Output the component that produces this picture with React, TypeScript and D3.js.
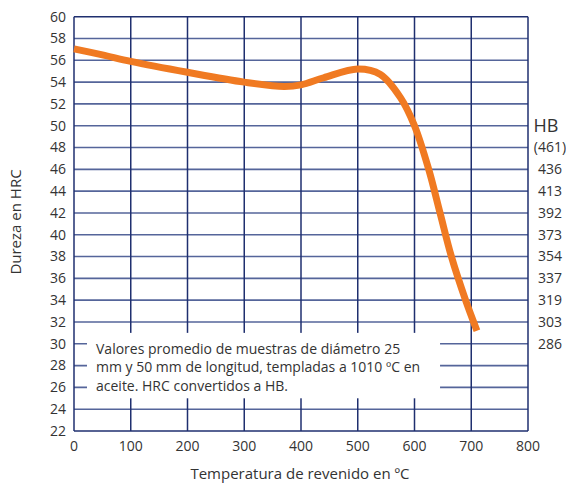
import React, { useEffect, useRef } from 'react'
import * as d3 from 'd3'

// temperatura de revenido (ºC) vs dureza (HRC)
const temps = [0, 50, 100, 200, 300, 370, 400, 440, 500, 540, 575, 600, 625, 645, 665, 690, 710]
const hrc = [57.05, 56.5, 55.9, 54.9, 54.0, 53.6, 53.75, 54.4, 55.2, 54.7, 52.6, 50.0, 46.0, 42.0, 38.0, 34.0, 31.2]

const xTicks = [0, 100, 200, 300, 400, 500, 600, 700, 800]
const yTicks = d3.range(22, 61, 2)

// HB equivalents on the right side
const hbLevels = [48, 46, 44, 42, 40, 38, 36, 34, 32, 30]
const hbLabels = ['(461)', '436', '413', '392', '373', '354', '337', '319', '303', '286']

const note = [
  'Valores promedio de muestras de diámetro 25',
  'mm y 50 mm de longitud, templadas a 1010 ºC en',
  'aceite. HRC convertidos a HB.',
]

const W = 566
const H = 484
const FONT = '"Open Sans", sans-serif'
const TEXT = '#333333'

export default function App() {
  const ref = useRef<SVGSVGElement>(null)

  useEffect(() => {
    const node = ref.current
    if (!node) return
    const svg = d3.select(node)
    svg.selectAll('*').remove()

    const x = d3.scaleLinear().domain([0, 800]).range([74, 528])
    const y = d3.scaleLinear().domain([22, 60]).range([431, 16.7])

    const g = svg.append('g')

    // horizontal grid
    g.append('g')
      .selectAll('line')
      .data(yTicks)
      .join('line')
      .attr('x1', x(0))
      .attr('x2', x(800))
      .attr('y1', (d) => y(d))
      .attr('y2', (d) => y(d))
      .attr('stroke', (d) => (d === 22 || d === 60 ? '#1f2f6f' : '#55659a'))
      .attr('stroke-width', 1.6)

    // vertical grid
    g.append('g')
      .selectAll('line')
      .data(xTicks)
      .join('line')
      .attr('x1', (d) => x(d))
      .attr('x2', (d) => x(d))
      .attr('y1', y(60))
      .attr('y2', y(22))
      .attr('stroke', '#1f2f6f')
      .attr('stroke-width', 1.5)

    // note box hides the grid behind it
    g.append('rect')
      .attr('x', x(0) + 13)
      .attr('y', y(31))
      .attr('width', x(645) - x(0) - 13)
      .attr('height', y(25) - y(31))
      .attr('fill', '#ffffff')

    g.append('g')
      .selectAll('text')
      .data(note)
      .join('text')
      .attr('x', x(0) + 22)
      .attr('y', (d, i) => y(31) + 21 + i * 18.6)
      .attr('font-family', FONT)
      .attr('font-size', 14)
      .attr('fill', TEXT)
      .text((d) => d)

    // curve
    const line = d3
      .line<number>()
      .x((d, i) => x(temps[i]))
      .y((d) => y(d))
      .curve(d3.curveCatmullRom.alpha(0.5))

    g.append('path')
      .datum(hrc)
      .attr('d', line)
      .attr('fill', 'none')
      .attr('stroke', '#f07a22')
      .attr('stroke-width', 7)

    // left tick labels
    g.append('g')
      .selectAll('text')
      .data(yTicks)
      .join('text')
      .attr('x', x(0) - 8)
      .attr('y', (d) => y(d))
      .attr('dy', '0.35em')
      .attr('text-anchor', 'end')
      .attr('font-family', FONT)
      .attr('font-size', 14)
      .attr('fill', TEXT)
      .text((d) => d)

    // bottom tick labels
    g.append('g')
      .selectAll('text')
      .data(xTicks)
      .join('text')
      .attr('x', (d) => x(d))
      .attr('y', y(22) + 20)
      .attr('text-anchor', 'middle')
      .attr('font-family', FONT)
      .attr('font-size', 14)
      .attr('fill', TEXT)
      .text((d) => d)

    // HB scale
    g.append('text')
      .attr('x', 546)
      .attr('y', y(50))
      .attr('dy', '0.35em')
      .attr('text-anchor', 'middle')
      .attr('font-family', FONT)
      .attr('font-size', 18)
      .attr('fill', TEXT)
      .text('HB')

    g.append('g')
      .selectAll('text')
      .data(hbLabels)
      .join('text')
      .attr('x', 550)
      .attr('y', (d, i) => y(hbLevels[i]))
      .attr('dy', '0.35em')
      .attr('text-anchor', 'middle')
      .attr('font-family', FONT)
      .attr('font-size', 14)
      .attr('fill', TEXT)
      .text((d) => d)

    // axis titles
    g.append('text')
      .attr('x', 300)
      .attr('y', 479)
      .attr('text-anchor', 'middle')
      .attr('font-family', FONT)
      .attr('font-size', 15)
      .attr('fill', TEXT)
      .text('Temperatura de revenido en ºC')

    g.append('text')
      .attr('transform', `translate(21,${222}) rotate(-90)`)
      .attr('text-anchor', 'middle')
      .attr('font-family', FONT)
      .attr('font-size', 15)
      .attr('fill', TEXT)
      .text('Dureza en HRC')
  }, [])

  return (
    <div style={{ position: 'fixed', left: 0, top: 0 }}>
      <svg ref={ref} width={W} height={H} style={{ display: 'block', background: '#fff' }} />
    </div>
  )
}
